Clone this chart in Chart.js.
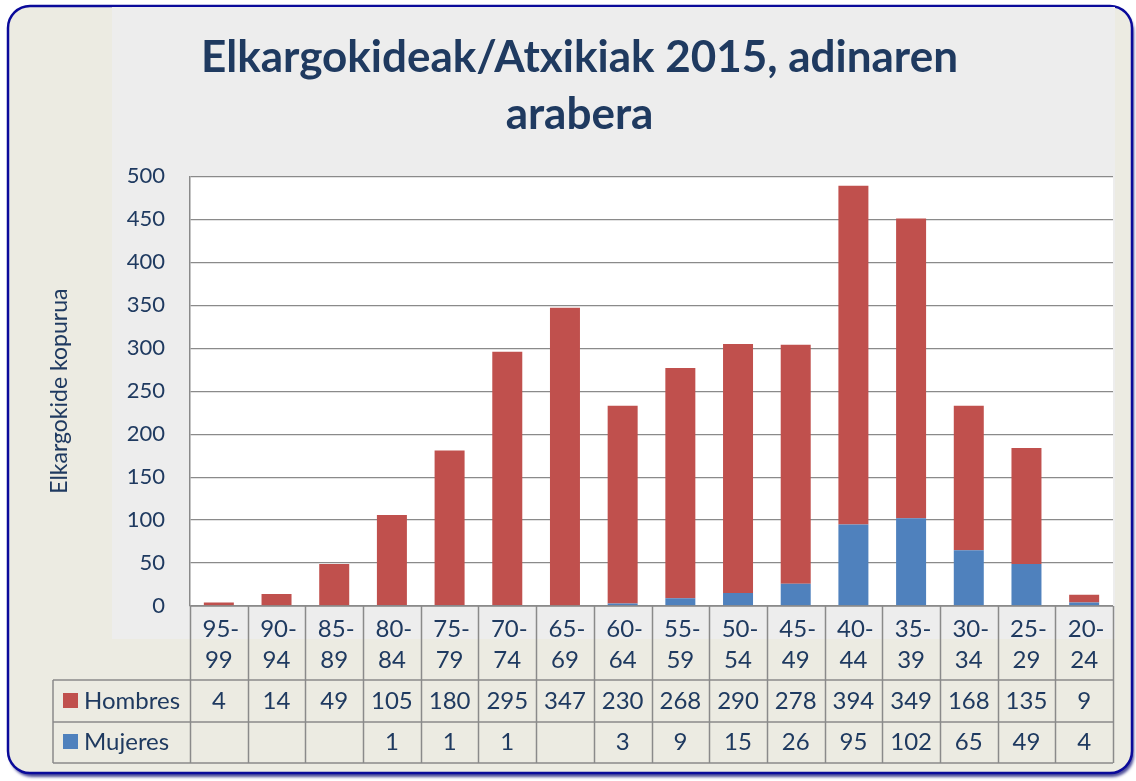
<!DOCTYPE html>
<html>
<head>
<meta charset="utf-8">
<script src="https://cdn.jsdelivr.net/npm/chart.js@4/dist/chart.umd.min.js"></script>
<style>
  html, body { margin: 0; padding: 0; background: #fff; }
  #wrap { width: 1136px; height: 781px; position: relative; }
</style>
</head>
<body>
<div id="wrap"><canvas id="grafico" width="1136" height="781"></canvas></div>
<script>
// ===============================
// DATOS
// ===============================
const edades = ["95-99", "90-94", "85-89", "80-84", "75-79", "70-74", "65-69", "60-64",
                "55-59", "50-54", "45-49", "40-44", "35-39", "30-34", "25-29", "20-24"];
const hombres = [4, 14, 49, 105, 180, 295, 347, 230, 268, 290, 278, 394, 349, 168, 135, 9];
const mujeres = [null, null, null, 1, 1, 1, null, 3, 9, 15, 26, 95, 102, 65, 49, 4];
const ticksY = [0, 50, 100, 150, 200, 250, 300, 350, 400, 450, 500];

const titulo = ["Elkargokideak/Atxikiak 2015, adinaren", "arabera"];
const tituloEje = "Elkargokide kopurua";

// ===============================
// ESTILOS
// ===============================
const azulTexto = "#1f3a60";
const rojo = "#c0504d";
const azul = "#4f81bd";
const gris = "#8a8a8a";
const fuente = "Lato, 'Open Sans', sans-serif";

// fondo, marco y tabla de datos
const fondoTabla = {
  id: "fondoTabla",
  beforeDraw(chart) {
    const ctx = chart.ctx;
    const a = chart.chartArea;
    ctx.save();
    // marco redondeado
    ctx.shadowColor = "rgba(0,0,110,0.7)";
    ctx.shadowOffsetX = 2;
    ctx.shadowOffsetY = 4;
    ctx.shadowBlur = 3;
    ctx.beginPath();
    ctx.roundRect(8, 6, 1124, 767, 22);
    ctx.fillStyle = "#ecebe2";
    ctx.fill();
    ctx.shadowColor = "transparent";
    ctx.lineWidth = 2.5;
    ctx.strokeStyle = "#0a0a9a";
    ctx.stroke();
    // zona gris
    ctx.fillStyle = "#ededed";
    ctx.fillRect(112, 7, a.right + 2 - 112, 632);
    // area de trazado
    ctx.fillStyle = "#ffffff";
    ctx.fillRect(a.left, a.top, a.right - a.left, a.bottom - a.top);
    ctx.restore();
  },
  afterDraw(chart) {
    const ctx = chart.ctx;
    const a = chart.chartArea;
    const x = chart.scales.x;
    const paso = x.getPixelForValue(1) - x.getPixelForValue(0);
    const filaH = 680, filaM = 722, fin = 763, izq = 53;

    ctx.save();
    ctx.strokeStyle = gris;
    ctx.lineWidth = 1.5;
    ctx.beginPath();
    // horizontales
    ctx.moveTo(a.left, a.bottom); ctx.lineTo(a.right, a.bottom);
    [filaH, filaM, fin].forEach(y => { ctx.moveTo(izq, y); ctx.lineTo(a.right, y); });
    // verticales
    for (let i = 0; i <= edades.length; i++) {
      const px = Math.round(x.getPixelForValue(i) - paso / 2) + 0.5;
      ctx.moveTo(px, a.bottom); ctx.lineTo(px, fin);
    }
    ctx.moveTo(izq, filaH); ctx.lineTo(izq, fin);
    ctx.stroke();

    // textos
    ctx.fillStyle = azulTexto;
    ctx.font = "24px " + fuente;
    ctx.textAlign = "center";
    ctx.textBaseline = "middle";
    edades.forEach((e, i) => {
      const cx = x.getPixelForValue(i);
      const [ini, fi] = e.split("-");
      ctx.fillText(ini + "-", cx + 2, 629);
      ctx.fillText(fi, cx, 660);
      ctx.fillText(String(hombres[i]), cx, 701);
      if (mujeres[i] != null) ctx.fillText(String(mujeres[i]), cx, 742);
    });

    // leyenda
    ctx.textAlign = "left";
    ctx.fillStyle = rojo;
    ctx.fillRect(63, 693, 15, 15);
    ctx.fillStyle = azul;
    ctx.fillRect(63, 734, 15, 15);
    ctx.fillStyle = azulTexto;
    ctx.fillText("Hombres", 84, 701);
    ctx.fillText("Mujeres", 84, 742);
    ctx.restore();
  }
};

// ===============================
// GRÁFICA
// ===============================
new Chart(document.getElementById("grafico"), {
  type: "bar",
  data: {
    labels: edades,
    datasets: [
      { label: "Mujeres", data: mujeres, backgroundColor: azul, barPercentage: 0.52, categoryPercentage: 1 },
      { label: "Hombres", data: hombres, backgroundColor: rojo, barPercentage: 0.52, categoryPercentage: 1 }
    ]
  },
  options: {
    responsive: false,
    animation: false,
    layout: { padding: { left: 46, right: 23, top: 0, bottom: 175 } },
    plugins: {
      legend: { display: false },
      tooltip: { enabled: false },
      title: {
        display: true,
        text: titulo,
        color: azulTexto,
        font: { family: fuente, size: 44, weight: "bold", lineHeight: 1.3 },
        padding: { top: 29, bottom: 33 }
      }
    },
    scales: {
      x: { display: false, stacked: true },
      y: {
        stacked: true,
        min: 0,
        max: 500,
        afterFit: s => { s.width = 144; },
        afterBuildTicks: s => { s.ticks = ticksY.map(v => ({ value: v })); },
        border: { display: true, color: gris, width: 1.5 },
        grid: { color: gris, lineWidth: 1.2, drawTicks: false },
        ticks: { color: azulTexto, padding: 25, font: { family: fuente, size: 22 } },
        title: {
          display: true,
          text: tituloEje,
          color: azulTexto,
          font: { family: fuente, size: 23 },
          padding: { top: 0, bottom: 0 }
        }
      }
    }
  },
  plugins: [fondoTabla]
});
</script>
</body>
</html>
